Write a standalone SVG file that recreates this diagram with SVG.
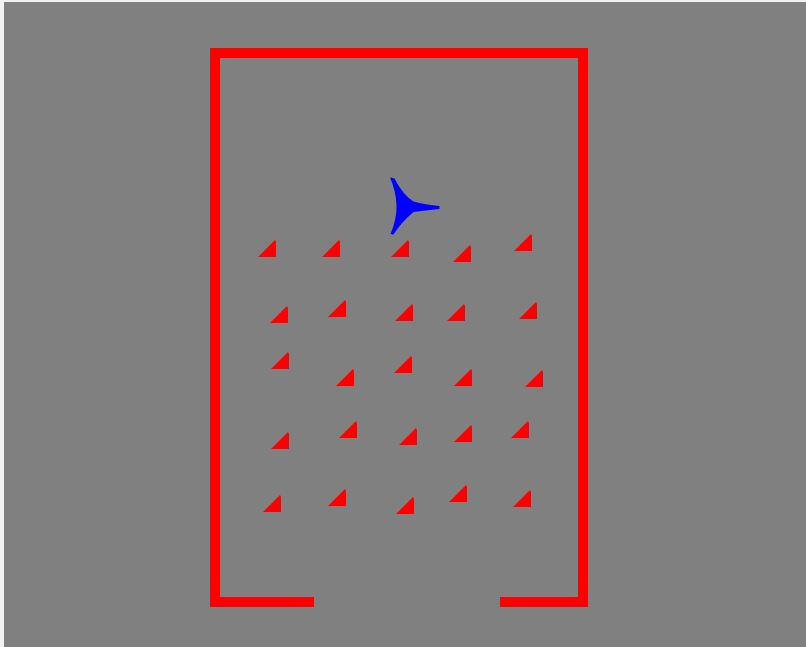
<svg xmlns="http://www.w3.org/2000/svg" width="806" height="647" viewBox="0 0 806 647">
<defs>
<style>
.wall{fill:#ff0000}
.obs{fill:#ff0000}
.agent{fill:#0000ff}
</style>
<polygon id="tri" points="-18,0 0,0 0,-15 -1,-17"/>
</defs>
<rect x="0" y="0" width="806" height="647" fill="#f2f2f2"/>
<rect x="4" y="2" width="802" height="645" fill="#808080"/>
<g id="walls">
<rect class="wall" x="210" y="48" width="10" height="559"/>
<rect class="wall" x="210" y="48" width="378" height="10"/>
<rect class="wall" x="578" y="48" width="10" height="559"/>
<rect class="wall" x="210" y="597" width="104" height="10"/>
<rect class="wall" x="500" y="597" width="88" height="10"/>
</g>
<g id="obstacles" class="obs">
<use href="#tri" x="276" y="257"/>
<use href="#tri" x="340" y="257"/>
<use href="#tri" x="409" y="257"/>
<use href="#tri" x="471" y="262"/>
<use href="#tri" x="532" y="251"/>
<use href="#tri" x="288" y="323"/>
<use href="#tri" x="346" y="317"/>
<use href="#tri" x="413" y="321"/>
<use href="#tri" x="465" y="321"/>
<use href="#tri" x="537" y="319"/>
<use href="#tri" x="289" y="369"/>
<use href="#tri" x="354" y="386"/>
<use href="#tri" x="412" y="373"/>
<use href="#tri" x="472" y="386"/>
<use href="#tri" x="543" y="387"/>
<use href="#tri" x="289" y="449"/>
<use href="#tri" x="357" y="438"/>
<use href="#tri" x="417" y="445"/>
<use href="#tri" x="472" y="442"/>
<use href="#tri" x="529" y="438"/>
<use href="#tri" x="281" y="512"/>
<use href="#tri" x="346" y="506"/>
<use href="#tri" x="414" y="514"/>
<use href="#tri" x="467" y="502"/>
<use href="#tri" x="531" y="507"/>
</g>
<g id="agent">
<path class="agent" d="M390,177.5 L394.5,178.5 Q403,195 413.5,201.5 Q425,204.5 439.5,206 L439.5,209 Q425,210.5 413.5,212 Q401.5,222 393.5,234.5 L390.5,234 Q397,219 396.5,205 Q396,191 390,177.5Z"/>
</g>
</svg>
